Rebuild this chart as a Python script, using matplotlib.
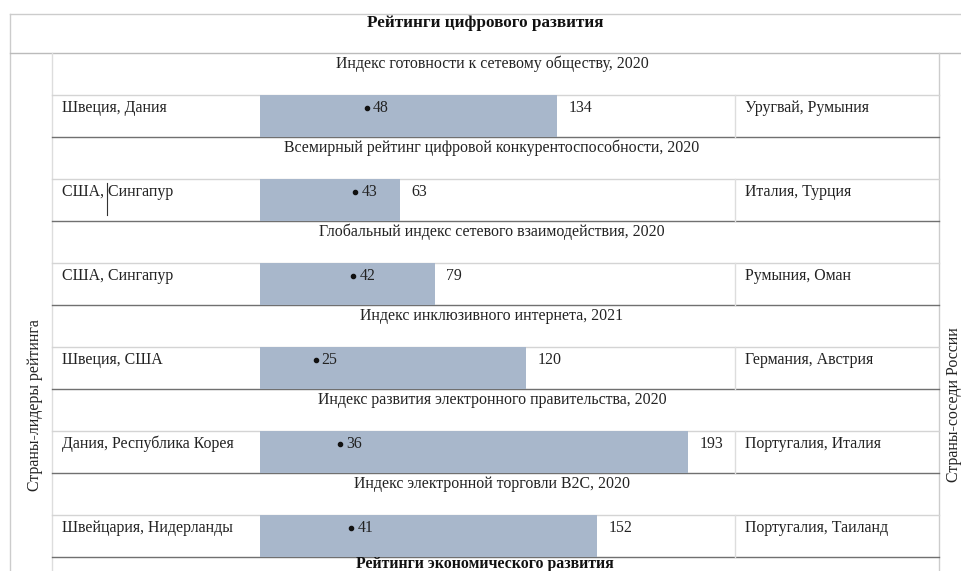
import matplotlib.pyplot as plt

# Данные рейтингов
indices = ['Индекс готовности к сетевому обществу, 2020',
           'Всемирный рейтинг цифровой конкурентоспособности, 2020',
           'Глобальный индекс сетевого взаимодействия, 2020',
           'Индекс инклюзивного интернета, 2021',
           'Индекс развития электронного правительства, 2020',
           'Индекс электронной торговли B2C, 2020']
leaders = ['Швеция, Дания', 'США, Сингапур', 'США, Сингапур',
           'Швеция, США', 'Дания, Республика Корея', 'Швейцария, Нидерланды']
neighbors = ['Уругвай, Румыния', 'Италия, Турция', 'Румыния, Оман',
             'Германия, Австрия', 'Португалия, Италия', 'Португалия, Таиланд']
russia_rank = [48, 43, 42, 25, 36, 41]
total = [134, 63, 79, 120, 193, 152]

W, H = 962, 571
plt.rcParams['font.family'] = ['Liberation Serif', 'DejaVu Serif']
fig = plt.figure(figsize=(W / 100, H / 100), dpi=100)

# Фон с координатами в пикселях (для линий таблицы и подписей)
bg = fig.add_axes([0, 0, 1, 1])
bg.set_xlim(0, W)
bg.set_ylim(H, 0)
bg.axis('off')

txt = '#222222'
fs = 11.4
top, block = 53, 84
x_left, x_bar, x_mid, x_right = 52, 260, 735, 939

# рамка
bg.plot([10, W], [14, 14], color='#cccccc', lw=1)
bg.plot([10, 10], [14, H], color='#cccccc', lw=1)
bg.plot([10, W], [top, top], color='#bbbbbb', lw=1)
bg.plot([x_left, x_left], [top, H], color='#dddddd', lw=1)
bg.plot([x_right, x_right], [top, H], color='#cccccc', lw=1)

bg.text(485, 23, 'Рейтинги цифрового развития', ha='center', va='center',
        fontsize=12.3, fontweight='bold', color='#111111')

for i in range(len(indices)):
    h_top = top + i * block
    d_top = h_top + block / 2
    d_bot = h_top + block
    bg.plot([x_left, x_right], [d_top, d_top], color='#d4d4d4', lw=1)
    bg.plot([x_left, x_right], [d_bot, d_bot], color='#707070', lw=1)
    bg.plot([x_mid, x_mid], [d_top, d_bot], color='#dddddd', lw=1)
    bg.text(492, h_top + 11, indices[i], ha='center', va='center', fontsize=fs, color=txt)
    bg.text(62, d_top + 12.5, leaders[i], ha='left', va='center', fontsize=fs, color=txt)
    bg.text(745, d_top + 12.5, neighbors[i], ha='left', va='center', fontsize=fs, color=txt)

# курсор
bg.plot([107, 107], [183, 215], color='#333333', lw=0.8)

bg.text(485, 564, 'Рейтинги экономического развития', ha='center', va='center',
        fontsize=fs, fontweight='bold', color='#111111')
bg.text(35, 405, 'Страны-лидеры рейтинга', ha='center', va='center',
        rotation=90, fontsize=fs, color=txt)
bg.text(954, 405, 'Страны-соседи России', ha='center', va='center',
        rotation=90, fontsize=fs, color=txt)

# Оси для полос
px_per_unit = 2.22
ax = fig.add_axes([x_bar / W, 1 - (top + 6 * block) / H,
                   (x_mid - x_bar) / W, 6 * block / H])
ax.set_xlim(0, (x_mid - x_bar) / px_per_unit)
ax.set_ylim(6, 0)
ax.axis('off')
ax.patch.set_alpha(0)

ypos = [i + 0.75 for i in range(len(total))]
ax.barh(ypos, total, height=0.5, left=0, color='#a8b7cb', zorder=1)
ylab = [i + 0.65 for i in range(len(total))]
ax.plot(russia_rank, ylab, 'o', ms=3, color='#111111', zorder=3)
for r, t, y in zip(russia_rank, total, ylab):
    ax.annotate(str(r), (r, y), xytext=(4.5, 0), textcoords='offset points',
                va='center', fontsize=fs, color=txt)
    ax.annotate(str(t), (t, y), xytext=(8, 0), textcoords='offset points',
                va='center', fontsize=fs, color=txt)

fig.savefig('out.png', dpi=100)
